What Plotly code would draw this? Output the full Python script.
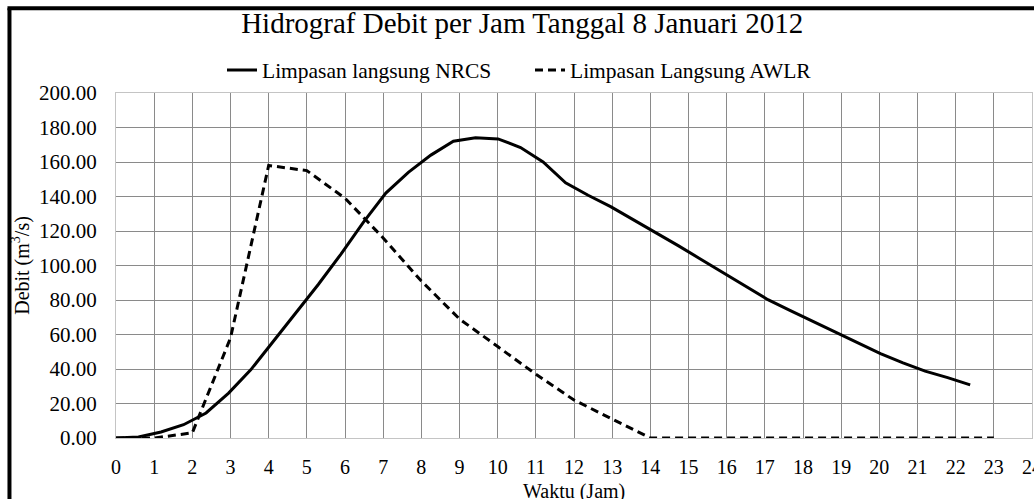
import plotly.graph_objects as go

# Waktu (jam) untuk hidrograf NRCS
t_nrcs = [0.00, 0.59, 1.18, 1.77, 2.36, 2.95, 3.53, 4.12, 4.71, 5.30,
          5.89, 6.48, 7.07, 7.66, 8.25, 8.84, 9.42, 10.01, 10.60, 11.19,
          11.78, 12.37, 12.96, 13.55, 14.14, 14.73, 15.31, 15.90, 16.49, 17.08,
          17.67, 18.26, 18.85, 19.44, 20.03, 20.62, 21.20, 21.79, 22.38]
q_nrcs = [0.0, 0.6, 3.5, 7.7, 14.5, 26.0, 39.5, 56.0, 72.0, 89.0,
          106.5, 125.0, 142.0, 154.0, 164.0, 172.0, 174.0, 173.4, 168.4, 160.0,
          147.9, 140.7, 134.1, 126.7, 119.2, 111.5, 103.8, 95.9, 87.9, 80.2,
          73.8, 67.5, 61.2, 55.1, 48.9, 43.6, 38.8, 35.0, 30.8]

t_awlr = list(range(0, 24))
q_awlr = [0, 0, 3, 58, 158, 155, 139, 116, 91, 69, 53, 37, 22, 11,
          0, 0, 0, 0, 0, 0, 0, 0, 0, 0]

x_ticks = list(range(0, 25))
y_ticks = [0, 20, 40, 60, 80, 100, 120, 140, 160, 180, 200]

FONT = "Liberation Serif, Times New Roman, serif"

fig = go.Figure()
fig.add_trace(go.Scatter(x=t_nrcs, y=q_nrcs, mode="lines",
                         name="Limpasan langsung NRCS",
                         line=dict(color="black", width=3)))
fig.add_trace(go.Scatter(x=t_awlr, y=q_awlr, mode="lines",
                         name="Limpasan Langsung AWLR",
                         line=dict(color="black", width=3, dash="8px,5px")))

fig.update_layout(
    width=1034, height=499,
    margin=dict(l=116, r=2, t=93, b=61, autoexpand=False),
    paper_bgcolor="white", plot_bgcolor="white",
    font=dict(family=FONT, color="black", size=20),
    title=dict(text="Hidrograf Debit per Jam Tanggal 8 Januari 2012",
               x=0.505, xref="container", xanchor="center",
               y=1 - 13 / 499, yref="container", yanchor="top",
               font=dict(size=29, family=FONT, color="black")),
    legend=dict(orientation="h", x=222 / 1034, xref="container", xanchor="left",
                y=1 - 70 / 499, yref="container", yanchor="middle",
                font=dict(size=21.5, family=FONT), itemwidth=30,
                entrywidth=263, entrywidthmode="pixels",
                bgcolor="rgba(0,0,0,0)", traceorder="normal"),
    showlegend=True,
)

fig.update_xaxes(range=[0, 24], tickvals=x_ticks, ticktext=[str(v) for v in x_ticks],
                 showgrid=True, gridcolor="#8a8a8a", gridwidth=1,
                 showline=True, linecolor="#c4c4c4", linewidth=1, mirror=True,
                 ticks="", ticklabelstandoff=11, zeroline=False, automargin=False,
                 ticklabeloverflow="allow",
                 tickfont=dict(size=20, family=FONT))
fig.update_yaxes(range=[0, 200], tickvals=y_ticks,
                 ticktext=[f"{v:.2f}" for v in y_ticks],
                 showgrid=True, gridcolor="#8a8a8a", gridwidth=1,
                 showline=True, linecolor="#c4c4c4", linewidth=1, mirror=True,
                 ticks="", ticklabelstandoff=14, zeroline=False, automargin=False,
                 tickfont=dict(size=21, family=FONT),
                 title=dict(text="Debit (m<sup>3</sup>/s)", standoff=4,
                            font=dict(size=20, family=FONT)))

# Judul sumbu X
fig.add_annotation(text="Waktu (Jam)", xref="paper", yref="paper",
                   x=0.5, y=-0.156, xanchor="center", yanchor="middle",
                   showarrow=False, font=dict(size=20, family=FONT, color="black"))

# Bingkai hitam tebal (kiri & atas)
fig.add_shape(type="line", xref="paper", yref="paper",
              x0=-0.1163, x1=-0.1163, y0=-0.5, y1=1.2453,
              line=dict(color="black", width=4))
fig.add_shape(type="line", xref="paper", yref="paper",
              x0=-0.1185, x1=1.2, y0=1.2453, y1=1.2453,
              line=dict(color="black", width=4))

fig.write_html("out.html", config={"displayModeBar": False},
               post_script="document.body.style.margin='0';document.body.style.overflow='hidden';")
